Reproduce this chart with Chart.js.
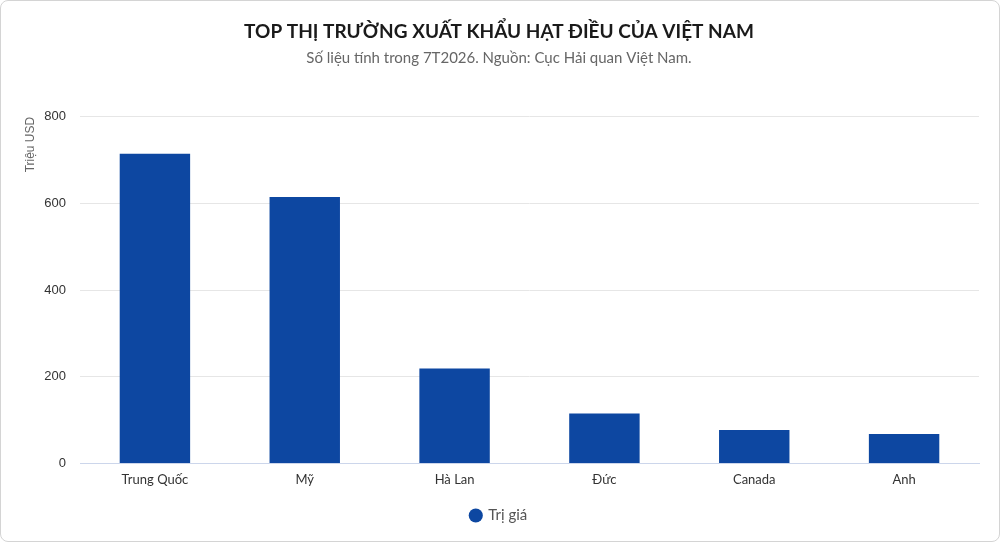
<!DOCTYPE html>
<html>
<head>
<meta charset="utf-8">
<script src="https://cdn.jsdelivr.net/npm/chart.js@4"></script>
<style>
  html, body { margin: 0; padding: 0; background: #fff; }
  .card {
    width: 998px; height: 540px;
    border: 1px solid #d4d4d4; border-radius: 8px;
    overflow: hidden; position: relative; background: #fff;
  }
  canvas { display: block; }
</style>
</head>
<body>
<div class="card"><canvas id="chart" width="998" height="540"></canvas></div>
<script>
// du lieu doc tu bieu do
const categories = ["Trung Quốc", "Mỹ", "Hà Lan", "Đức", "Canada", "Anh"];
const triGia = [715, 615, 219, 115, 77, 68];
const yTicks = [0, 200, 400, 600, 800];

const ctx = document.getElementById("chart").getContext("2d");
new Chart(ctx, {
  type: "bar",
  data: {
    labels: categories,
    datasets: [{
      label: "Trị giá",
      data: triGia,
      backgroundColor: "#0d47a1",
      borderWidth: 0,
      categoryPercentage: 1,
      barPercentage: 0.47
    }]
  },
  options: {
    responsive: false,
    animation: false,
    layout: { padding: { left: 18, right: 20, top: 0, bottom: 8 } },
    plugins: {
      title: {
        display: true,
        text: "TOP THỊ TRƯỜNG XUẤT KHẨU HẠT ĐIỀU CỦA VIỆT NAM",
        color: "#1a1a1a",
        font: { family: "Lato", size: 19, weight: "bold" },
        padding: { top: 19, bottom: 6 }
      },
      subtitle: {
        display: true,
        text: "Số liệu tính trong 7T2026. Nguồn: Cục Hải quan Việt Nam.",
        color: "#666666",
        font: { family: "Lato", size: 15 },
        padding: { bottom: 50 }
      },
      legend: {
        position: "bottom",
        labels: {
          usePointStyle: true,
          pointStyle: "circle",
          boxWidth: 10, boxHeight: 10,
          color: "#555",
          font: { family: "Lato", size: 15 },
          padding: 16
        }
      },
      tooltip: { enabled: false }
    },
    scales: {
      x: {
        grid: { display: false },
        border: { color: "#ccd6eb" },
        ticks: { color: "#333", font: { family: "Lato", size: 13 }, padding: 1 },
        afterFit: axis => { axis.height += 3; }
      },
      y: {
        min: 0, max: 800,
        afterBuildTicks: axis => { axis.ticks = yTicks.map(v => ({ value: v })); },
        afterFit: axis => { axis.width = 61; },
        grid: { color: "#e6e6e6", drawTicks: false },
        border: { display: false },
        ticks: { color: "#333", font: { family: "Liberation Sans", size: 13 }, padding: 14 },
        title: {
          display: true, text: "Triệu USD", align: "end",
          color: "#666", font: { family: "Liberation Sans", size: 12 },
          padding: { top: 4, bottom: 6 }
        }
      }
    }
  }
});
</script>
</body>
</html>
